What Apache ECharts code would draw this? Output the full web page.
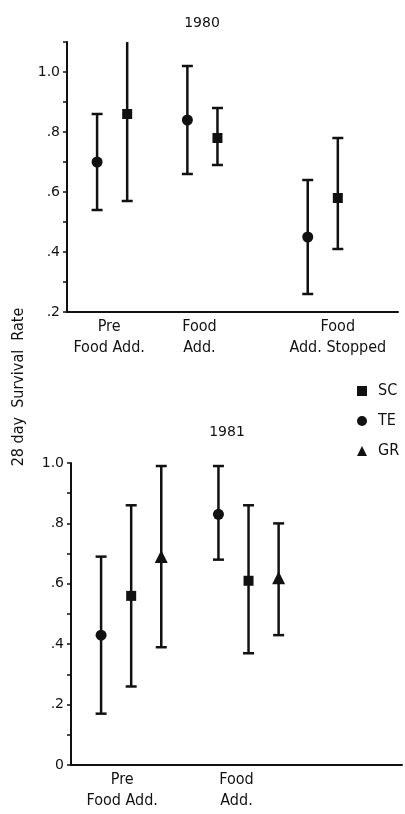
<!DOCTYPE html>
<html>
<head>
<meta charset="utf-8">
<script src="https://cdn.jsdelivr.net/npm/echarts@6/dist/echarts.min.js"></script>
<style>
	html, body { margin: 0; padding: 0; background: #fff; }
	#main { width: 405px; height: 814px; }
</style>
</head>
<body>
<div id="main"></div>
<script>
// 1980 data (survival rate, lower / upper bar ends)
const groups1980 = ["Pre\nFood Add.", "Food\nAdd.", "Food\nAdd. Stopped"];
const sc1980 = [0.86, 0.78, 0.58];
const sc1980Lo = [0.57, 0.69, 0.41];
const sc1980Hi = [1.12, 0.88, 0.78]; // first bar runs off the top of the axis
const te1980 = [0.70, 0.84, 0.45];
const te1980Lo = [0.54, 0.66, 0.26];
const te1980Hi = [0.86, 1.02, 0.64];

// 1981 data
const groups1981 = ["Pre\nFood Add.", "Food\nAdd."];
const te1981 = [0.43, 0.83];
const te1981Lo = [0.17, 0.68];
const te1981Hi = [0.69, 0.99];
const sc1981 = [0.56, 0.61];
const sc1981Lo = [0.26, 0.37];
const sc1981Hi = [0.86, 0.86];
const gr1981 = [0.69, 0.62];
const gr1981Lo = [0.39, 0.43];
const gr1981Hi = [0.99, 0.80];

const legendNames = ["SC", "TE", "GR"];

// layout: slot positions along the (hidden) x scale
const slot1980 = [1.5, 4.5, 8.5];
const labelSlot1980 = [1.4, 4.4, 9.0];
const slot1981 = [2, 5.9];
const labelSlot1981 = [1.7, 5.5];

const ink = "#111";
const labelFont = "'DejaVu Sans Condensed', 'DejaVu Sans', sans-serif";
const numFont = "'DejaVu Sans', sans-serif";

const chart = echarts.init(document.getElementById("main"));

function points(slots, off, vals) {
	return vals.map((v, i) => [slots[i] + off, v]);
}
function bars(slots, off, lo, hi) {
	return lo.map((v, i) => [slots[i] + off, v, hi[i]]);
}

function renderBar(params, api) {
	const x = api.value(0);
	const top = api.coord([x, api.value(2)]);
	const bot = api.coord([x, api.value(1)]);
	const w = 5.5;
	const style = { stroke: ink, lineWidth: 2.5 };
	return {
		type: "group",
		children: [
			{ type: "line", shape: { x1: top[0], y1: top[1], x2: bot[0], y2: bot[1] }, style: style },
			{ type: "line", shape: { x1: top[0] - w, y1: top[1], x2: top[0] + w, y2: top[1] }, style: style },
			{ type: "line", shape: { x1: bot[0] - w, y1: bot[1], x2: bot[0] + w, y2: bot[1] }, style: style },
		],
	};
}

function barSeries(idx, data) {
	return {
		type: "custom",
		name: "bars",
		xAxisIndex: idx,
		yAxisIndex: idx,
		clip: true,
		renderItem: renderBar,
		data: data,
		z: 2,
		silent: true,
	};
}

function dotSeries(idx, name, symbol, size, data) {
	return {
		type: "scatter",
		name: name,
		xAxisIndex: idx,
		yAxisIndex: idx,
		symbol: symbol,
		symbolSize: size,
		itemStyle: { color: ink, opacity: 1 },
		data: data,
		z: 3,
		silent: true,
	};
}

function xAxisFor(idx, groups, labelSlots) {
	return {
		type: "value",
		gridIndex: idx,
		min: 0,
		max: 11,
		interval: 0.1,
		axisLine: { lineStyle: { color: ink, width: 2 } },
		axisTick: { show: false },
		splitLine: { show: false },
		axisLabel: {
			margin: 4,
			color: ink,
			fontFamily: labelFont,
			fontSize: 16,
			lineHeight: 21,
			formatter: (v) => {
				const i = labelSlots.findIndex((s) => Math.round(s * 10) === Math.round(v * 10));
				return i >= 0 ? groups[i] : "";
			},
		},
	};
}

function yAxisFor(idx, min, max) {
	return {
		type: "value",
		gridIndex: idx,
		min: min,
		max: max,
		interval: 0.1,
		axisLine: { show: true, lineStyle: { color: ink, width: 2 } },
		axisTick: { show: true, length: 4, lineStyle: { color: ink, width: 1.5 } },
		splitLine: { show: false },
		axisLabel: {
			margin: 7,
			color: ink,
			fontFamily: numFont,
			fontSize: 14,
			padding: [0, 0, 14, 0],
			showMaxLabel: true,
			formatter: (v) => {
				const r = Math.round(v * 10);
				if (r % 2) return "";
				if (r === 0) return "0";
				if (r === 10) return "1.0";
				return "." + r;
			},
		},
	};
}

const option = {
	animation: false,
	backgroundColor: "#fff",
	title: [
		{ text: "1980", left: 197, top: 11, textAlign: "center",
			textStyle: { fontFamily: numFont, fontSize: 14, fontWeight: "normal", color: ink } },
		{ text: "1981", left: 222, top: 420, textAlign: "center",
			textStyle: { fontFamily: numFont, fontSize: 14, fontWeight: "normal", color: ink } },
	],
	legend: {
		data: legendNames,
		orient: "vertical",
		left: 352,
		top: 378,
		itemWidth: 10,
		itemHeight: 10,
		itemGap: 14,
		selectedMode: false,
		textStyle: { fontFamily: labelFont, fontSize: 16, lineHeight: 16, color: ink, padding: [0, 0, 0, 6] },
	},
	graphic: [
		{
			type: "text",
			x: 19,
			y: 387,
			rotation: Math.PI / 2,
			style: {
				text: "28 day  Survival  Rate",
				x: 0,
				y: 0,
				align: "center",
				verticalAlign: "middle",
				fontFamily: labelFont,
				fontSize: 16,
				fill: ink,
			},
		},
	],
	grid: [
		{ left: 67, top: 42, width: 331, height: 270 },
		{ left: 71, top: 463, width: 333, height: 302 },
	],
	xAxis: [xAxisFor(0, groups1980, labelSlot1980), xAxisFor(1, groups1981, labelSlot1981)],
	yAxis: [yAxisFor(0, 0.2, 1.1), yAxisFor(1, 0, 1.0)],
	series: [
		barSeries(0, bars(slot1980, -0.5, te1980Lo, te1980Hi)),
		barSeries(0, bars(slot1980, 0.5, sc1980Lo, sc1980Hi)),
		dotSeries(0, "TE", "circle", 11, points(slot1980, -0.5, te1980)),
		dotSeries(0, "SC", "rect", 10, points(slot1980, 0.5, sc1980)),

		barSeries(1, bars(slot1981, -1, te1981Lo, te1981Hi)),
		barSeries(1, bars(slot1981, 0, sc1981Lo, sc1981Hi)),
		barSeries(1, bars(slot1981, 1, gr1981Lo, gr1981Hi)),
		dotSeries(1, "TE", "circle", 11, points(slot1981, -1, te1981)),
		dotSeries(1, "SC", "rect", 10, points(slot1981, 0, sc1981)),
		dotSeries(1, "GR", "triangle", 13, points(slot1981, 1, gr1981)),
	],
};

chart.setOption(option);
</script>
</body>
</html>
